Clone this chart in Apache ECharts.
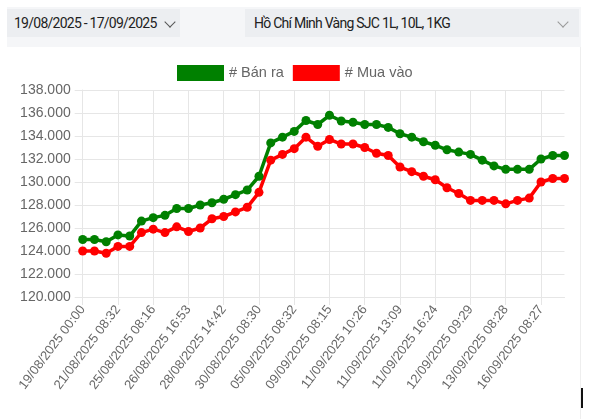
<!DOCTYPE html>
<html>
<head>
<meta charset="utf-8">
<script src="https://cdn.jsdelivr.net/npm/echarts@6/dist/echarts.min.js"></script>
<style>
  html, body { margin: 0; padding: 0; width: 597px; height: 419px; background: #fff; overflow: hidden; }
  #strip { position: absolute; left: 7px; top: 7px; width: 574px; height: 40px; background: #f5f6f8; }
  .box { position: absolute; top: 9px; height: 28px; background: #eceef1; font-family: Roboto, "Liberation Sans", Arial, sans-serif; font-size: 14px; color: #222; line-height: 28px; letter-spacing: -0.75px; white-space: nowrap; }
  #box1 { left: 7px; width: 173px; }
  #box1 span { position: absolute; left: 7px; }
  #box2 { left: 245px; width: 334px; }
  #box2 span { position: absolute; left: 9px; }
  .chev { position: absolute; top: 9px; width: 7px; height: 7px; border-right: 1.3px solid; border-bottom: 1.3px solid; transform: rotate(45deg); }
  #panel { position: absolute; left: 7px; top: 47px; width: 573px; height: 372px; border-right: 1px solid #eeeeee; }
  #chart { position: absolute; left: 0; top: 0; width: 597px; height: 419px; }
  #cursor { position: absolute; left: 581px; top: 388px; width: 1.5px; height: 20px; background: #111; }
</style>
</head>
<body>
<div id="strip"></div>
<div class="box" id="box1"><span>19/08/2025 - 17/09/2025</span><div class="chev" style="left:159px;color:#555;"></div></div>
<div class="box" id="box2"><span>Hồ Chí Minh Vàng SJC 1L, 10L, 1KG</span><div class="chev" style="left:314px;color:#999;"></div></div>
<div id="panel"></div>
<div id="chart"></div>
<div id="cursor"></div>
<script>
// Tick labels shown on the x axis (every third point)
const tickLabels = [
  '19/08/2025 00:00', '21/08/2025 08:32', '25/08/2025 08:16', '26/08/2025 16:53',
  '28/08/2025 14:42', '30/08/2025 08:30', '05/09/2025 08:32', '09/09/2025 08:15',
  '11/09/2025 10:26', '11/09/2025 13:09', '11/09/2025 16:24', '12/09/2025 09:29',
  '13/09/2025 08:28', '16/09/2025 08:27'
];
// Selling price (Bán ra), thousand VND
const banRa = [
  125000, 125000, 124800, 125400, 125300, 126600, 126900, 127100, 127700, 127700,
  128000, 128200, 128500, 128900, 129300, 130500, 133400, 133900, 134400, 135350,
  135000, 135800, 135300, 135200, 135000, 135000, 134750, 134200, 133900, 133500,
  133200, 132800, 132600, 132400, 131900, 131400, 131100, 131100, 131100, 132000,
  132300, 132300
];
// Buying price (Mua vào), thousand VND
const muaVao = [
  124000, 124000, 123800, 124400, 124400, 125600, 125900, 125600, 126100, 125700,
  126000, 126800, 127000, 127400, 127800, 129100, 131900, 132400, 132900, 133900,
  133100, 133700, 133300, 133300, 133000, 132500, 132300, 131300, 130900, 130500,
  130200, 129500, 129000, 128400, 128400, 128400, 128100, 128400, 128600, 130000,
  130300, 130300
];
// Category axis: 42 points, the labelled ones every third point
const categories = banRa.map((_, i) => (i % 3 === 0 ? tickLabels[i / 3] : ''));

const gridColor = '#e6e6e6';
const chart = echarts.init(document.getElementById('chart'), null, { renderer: 'canvas' });
chart.setOption({
  animation: false,
  backgroundColor: 'transparent',
  textStyle: { fontFamily: '"Liberation Sans", Arial, sans-serif' },
  legend: {
    left: 177, top: 65, padding: 0, itemGap: 9,
    itemWidth: 47, itemHeight: 16, icon: 'rect',
    textStyle: { fontSize: 14.5, color: '#666', fontFamily: '"Liberation Sans", Arial, sans-serif' },
    data: ['# Bán ra', '# Mua vào']
  },
  grid: { left: 82.7, right: 32.5, top: 90, bottom: 122, containLabel: false },
  xAxis: {
    type: 'category',
    data: categories,
    boundaryGap: false,
    axisLine: { lineStyle: { color: gridColor } },
    axisTick: { show: true, interval: 2, length: 8, lineStyle: { color: gridColor } },
    splitLine: { show: true, interval: 2, lineStyle: { color: gridColor } },
    axisLabel: { interval: 2, rotate: 53, margin: 10, fontSize: 13, color: '#666',
      fontFamily: '"Liberation Sans", Arial, sans-serif' }
  },
  yAxis: {
    type: 'value', min: 120000, max: 138000, interval: 2000,
    axisLine: { show: true, lineStyle: { color: gridColor } },
    axisTick: { show: true, length: 8, lineStyle: { color: gridColor } },
    splitLine: { show: true, lineStyle: { color: gridColor } },
    axisLabel: { margin: 12, fontSize: 14, color: '#666',
      fontFamily: '"Liberation Sans", Arial, sans-serif',
      formatter: v => String(v).replace(/\B(?=(\d{3})+(?!\d))/g, '.') }
  },
  series: [
    { name: '# Bán ra', type: 'line', data: banRa, color: '#008000', showAllSymbol: true,
      lineStyle: { width: 3.5, color: '#008000' }, symbol: 'circle', symbolSize: 9,
      itemStyle: { color: '#008000' } },
    { name: '# Mua vào', type: 'line', data: muaVao, color: '#ff0000', showAllSymbol: true,
      lineStyle: { width: 3.5, color: '#ff0000' }, symbol: 'circle', symbolSize: 9,
      itemStyle: { color: '#ff0000' } }
  ]
});
</script>
</body>
</html>
